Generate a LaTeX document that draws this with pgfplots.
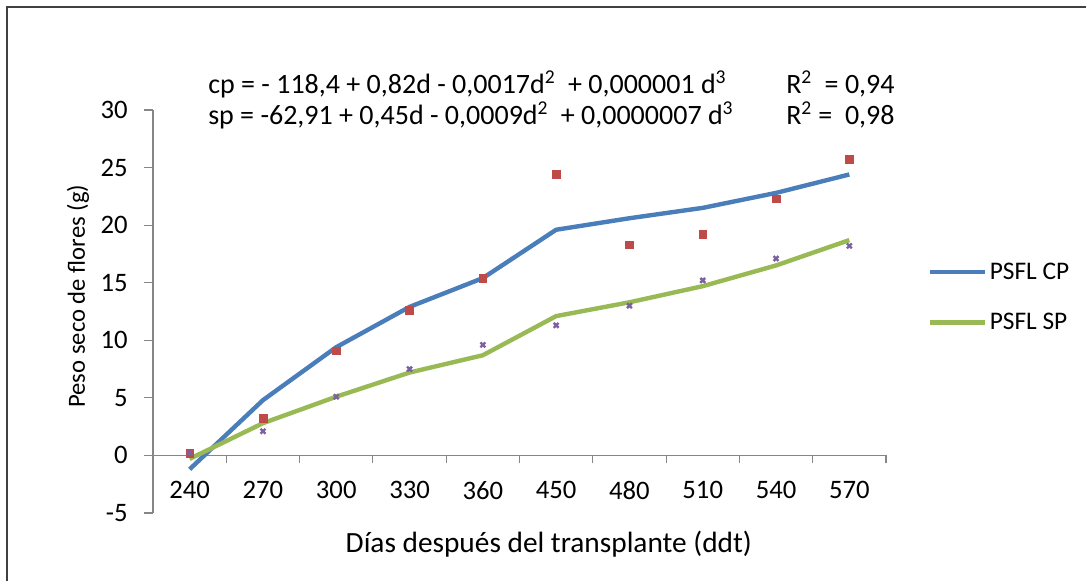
\documentclass[border=0pt]{standalone}
\usepackage{pgfplots}
\pgfplotsset{compat=1.18}
\usepackage{fontspec}
\setmainfont{Carlito}
\definecolor{cpblue}{HTML}{4A7EBB}
\definecolor{spgreen}{HTML}{98B954}
\definecolor{obsred}{HTML}{BE4B48}
\definecolor{obspurple}{HTML}{7D60A0}
\definecolor{axgray}{HTML}{868686}
\begin{document}
\begin{tikzpicture}
\useasboundingbox (0pt,0pt) rectangle (814.5pt,-435.75pt);
\draw[line width=1pt, black!75] (5.25pt,-460pt) -- (5.25pt,-5.25pt) -- (840pt,-5.25pt);
\begin{axis}[
 at={(114.75pt,-384.75pt)}, anchor=south west,
 scale only axis, width=549.75pt, height=302.25pt,
 xmin=-0.5, xmax=9.5, ymin=-5, ymax=30,
 axis x line=middle, axis y line=left,
 axis line style={axgray, line width=0.8pt, -},
 every tick/.style={axgray, line width=0.8pt},
 tick align=outside,
 hide obscured x ticks=false, hide obscured y ticks=false,
 xtick={0,...,9}, xticklabels={240,270,300,330,360,450,480,510,540,570},
 major x tick style={draw=none},
 minor xtick={-0.5,0.5,...,9.5},
 minor tick length=6pt, major tick length=6.5pt,
 ytick={-5,0,5,10,15,20,25,30}, yticklabels={-5,0,5,10,15,20,25,30},
 /pgf/number format/assume math mode=true,
 tick label style={font=\fontsize{20}{22}\selectfont, text=black},
 xticklabel style={yshift=-9.5pt},
 yticklabel style={xshift=-9pt},
 xlabel={Días después del transplante (ddt)},
 ylabel={Peso seco de flores (g)},
 xlabel style={at={(axis description cs:0.540,-0.0968)}, anchor=base, font=\fontsize{22}{24}\selectfont},
 ylabel style={at={(axis description cs:-0.0928,0.538)}, anchor=base, font=\fontsize{18.5}{20}\selectfont},
 legend style={at={(axis description cs:1.057,0.628)}, anchor=north west, draw=none, fill=none,
   font=\fontsize{19}{21}\selectfont, row sep=20pt, inner sep=0pt},
 legend cell align=left,
 legend image code/.code={\draw[#1] (0pt,0pt) -- (41pt,0pt);},
]
\addplot[cpblue, line width=3.3pt, sharp plot] coordinates {(0,-1.2)(1,4.8)(2,9.4)(3,12.9)(4,15.4)(5,19.6)(6,20.6)(7,21.5)(8,22.8)(9,24.4)};
\addlegendentry{PSFL CP}
\addplot[spgreen, line width=3.3pt, sharp plot] coordinates {(0,-0.3)(1,2.8)(2,5.1)(3,7.2)(4,8.7)(5,12.1)(6,13.3)(7,14.7)(8,16.5)(9,18.7)};
\addlegendentry{PSFL SP}
\addplot[only marks, mark=square*, mark size=2.9pt, color=obsred, forget plot] coordinates {(0,0.2)(1,3.2)(2,9.1)(3,12.6)(4,15.4)(5,24.4)(6,18.3)(7,19.2)(8,22.3)(9,25.7)};
\addplot[only marks, mark=x, mark size=2.6pt, line width=1.8pt, color=obspurple, forget plot] coordinates {(0,0.2)(1,2.1)(2,5.1)(3,7.5)(4,9.6)(5,11.3)(6,13.0)(7,15.2)(8,17.1)(9,18.2)};
\end{axis}
\node[anchor=base west, inner sep=0pt, font=\fontsize{21}{23}\selectfont] at (156pt,-70.5pt) {cp = - 118,4 + 0,82d - 0,0017d\textsuperscript{2} \ + 0,000001 d\textsuperscript{3}};
\node[anchor=base west, inner sep=0pt, font=\fontsize{21}{23}\selectfont] at (589.5pt,-70.5pt) {R\textsuperscript{2} \ = 0,94};
\node[anchor=base west, inner sep=0pt, font=\fontsize{21}{23}\selectfont] at (156pt,-93.75pt) {sp = -62,91 + 0,45d - 0,0009d\textsuperscript{2} \ + 0,0000007 d\textsuperscript{3}};
\node[anchor=base west, inner sep=0pt, font=\fontsize{21}{23}\selectfont] at (589.5pt,-93.75pt) {R\textsuperscript{2} = \ 0,98};
\end{tikzpicture}
\end{document}
